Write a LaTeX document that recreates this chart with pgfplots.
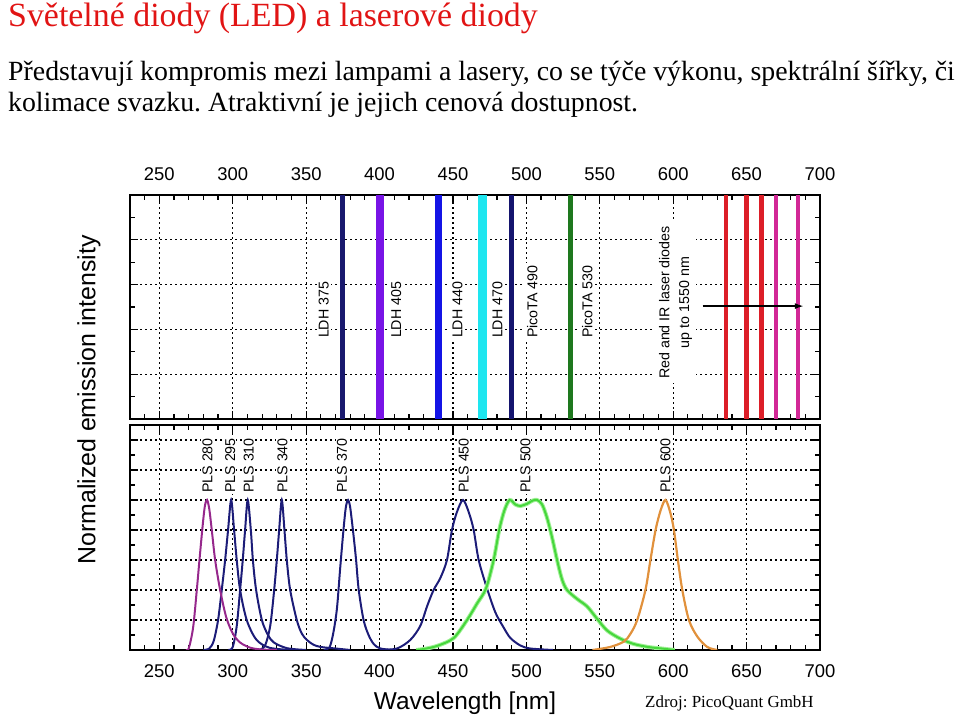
\documentclass[border=0pt]{standalone}
\usepackage{fontspec}
\setmainfont{Liberation Serif}
\setsansfont{Liberation Sans}
\usepackage{pgfplots}
\pgfplotsset{compat=1.18}
\usetikzlibrary{arrows.meta}
\frenchspacing
\definecolor{titlered}{RGB}{225,20,20}
\definecolor{cA}{RGB}{25,25,110}
\definecolor{cB}{RGB}{120,20,230}
\definecolor{cC}{RGB}{20,20,230}
\definecolor{cD}{RGB}{30,230,240}
\definecolor{cE}{RGB}{20,20,110}
\definecolor{cF}{RGB}{30,120,30}
\definecolor{cRed}{RGB}{220,30,40}
\definecolor{cMag}{RGB}{210,40,150}
\definecolor{navy}{RGB}{28,28,120}
\definecolor{magc}{RGB}{150,40,140}
\definecolor{grn}{RGB}{70,215,60}
\definecolor{grnglow}{RGB}{160,240,150}
\definecolor{org}{RGB}{225,145,60}
\pgfplotsset{
  panel/.style={scale only axis, width=690bp, xmin=230, xmax=700,
    xtick={250,300,...,700}, minor xtick={240,250,...,700},
    tick align=inside, major tick length=8bp, minor tick length=5bp,
    tick style={black,line width=1.2bp}, axis line style={line width=1.6bp},
    grid=major, major grid style={black,line width=1.2bp,dash pattern=on 1.8bp off 3.2bp},
    yticklabels={},
    ticklabel style={font=\sffamily\fontsize{18.5}{20}\selectfont},
    /pgf/number format/assume math mode=true,
    xticklabel shift=11bp}
}
\tikzset{
  lbl/.style={rotate=90, anchor=west, fill=white, inner sep=2bp, font=\sffamily\fontsize{14.3}{16}\selectfont},
  lblb/.style={rotate=90, anchor=west, fill=white, inner sep=1bp, font=\sffamily\fontsize{14.3}{16}\selectfont}
}
\begin{document}
\begin{tikzpicture}
\useasboundingbox (0,0) rectangle (960bp,717bp);
\node[anchor=base west, inner sep=0, text=titlered, font=\fontsize{34}{40}\selectfont] at (8bp,690bp) {Světelné diody (LED) a laserové diody};
\node[anchor=base west, inner sep=0, font=\fontsize{27.9}{31}\selectfont] at (8bp,636bp) {Představují kompromis mezi lampami a lasery, co se týče výkonu, spektrální šířky, či};
\node[anchor=base west, inner sep=0, font=\fontsize{27.9}{31}\selectfont] at (8bp,605bp) {kolimace svazku. Atraktivní je jejich cenová dostupnost.};

\begin{axis}[panel, at={(130bp,298bp)}, anchor=south west, height=224bp,
  ymin=0, ymax=5, ytick={0,1,2,3,4,5}, minor ytick={0.5,1.5,2.5,3.5,4.5},
  xticklabel pos=upper]
\addplot[cA, line width=5bp] coordinates {(375,0) (375,5)};
\addplot[cB, line width=8bp] coordinates {(400,0) (400,5)};
\addplot[cC, line width=7bp] coordinates {(440,0) (440,5)};
\addplot[cD, line width=9bp] coordinates {(470,0) (470,5)};
\addplot[cE, line width=4.5bp] coordinates {(490,0) (490,5)};
\addplot[cF, line width=4.5bp] coordinates {(530,0) (530,5)};
\addplot[cRed, line width=4.5bp] coordinates {(636,0) (636,5)};
\addplot[cRed, line width=4.5bp] coordinates {(650,0) (650,5)};
\addplot[cRed, line width=4.5bp] coordinates {(660,0) (660,5)};
\addplot[cMag, line width=4.5bp] coordinates {(670,0) (670,5)};
\addplot[cMag, line width=4.5bp] coordinates {(685,0) (685,5)};
\addplot[black, line width=1.6bp, -{Latex[length=9bp,width=6bp]}] coordinates {(620,2.52) (689,2.52)};
\node[lbl] at (axis cs:362,1.76) {LDH 375};
\node[lbl] at (axis cs:411.4,1.76) {LDH 405};
\node[lbl] at (axis cs:453,1.76) {LDH 440};
\node[lbl] at (axis cs:480.3,1.76) {LDH 470};
\node[lbl] at (axis cs:504,1.76) {PicoTA 490};
\node[lbl] at (axis cs:541.4,1.76) {PicoTA 530};
\node[rotate=90, align=center, fill=white, inner sep=4bp, font=\sffamily\fontsize{14.3}{20}\selectfont] at (axis cs:601.6,2.6) {Red and IR laser diodes\\up to 1550 nm};
\end{axis}

\begin{axis}[panel, at={(130bp,67bp)}, anchor=south west, height=225bp,
  ymin=0, ymax=1.5, ytick={0,0.2,0.4,0.6,0.8,1,1.2,1.4},
  minor ytick={0.1,0.3,0.5,0.7,0.9,1.1,1.3,1.5},
  xticklabel pos=lower]
% PLS 295
\addplot[navy, line width=2bp, smooth] coordinates {(280,0) (284,0.01) (287,0.06) (290,0.2) (292.5,0.4) (294.8,0.6) (296.8,0.8) (298.9,1.0) (300.9,0.8) (302.7,0.6) (305,0.4) (309.5,0.2) (316,0.07) (325,0.015) (340,0)};
% PLS 310
\addplot[navy, line width=2bp, smooth] coordinates {(297,0) (300,0.02) (302.7,0.16) (305,0.4) (306.8,0.6) (308.4,0.8) (310.2,1.0) (312.3,0.8) (313.7,0.6) (315.9,0.4) (319.8,0.2) (324,0.1) (328,0.05) (337,0.012) (350,0)};
% PLS 340
\addplot[navy, line width=2bp, smooth] coordinates {(318,0) (322,0.03) (325.5,0.16) (328.2,0.4) (330,0.6) (331.6,0.8) (333.4,1.0) (335.2,0.8) (336.8,0.6) (339.1,0.4) (343.6,0.2) (347,0.11) (350.5,0.067) (355,0.035) (360,0.02) (370,0.01) (380,0)};
% PLS 370
\addplot[navy, line width=2bp, smooth] coordinates {(362,0) (366,0.02) (368.6,0.12) (371,0.28) (373.2,0.55) (375.4,0.8) (377,0.95) (378.5,1.0) (380,0.95) (382.3,0.76) (384,0.6) (385.8,0.4) (389.1,0.2) (392.5,0.1) (396,0.04) (400.5,0.01) (410,0)};
% PLS 450
\addplot[navy, line width=2bp, smooth] coordinates {(400,0) (411.8,0.01) (420.9,0.067) (427.7,0.16) (432.3,0.29) (436.8,0.4) (441.4,0.48) (445.9,0.6) (449.3,0.8) (452.7,0.92) (456.8,1.0) (460.7,0.92) (464.1,0.8) (467.5,0.6) (473.2,0.41) (478.9,0.25) (484.5,0.15) (489.1,0.08) (495.9,0.03) (502.7,0.01) (518,0)};
% PLS 280
\addplot[magc, line width=2bp, smooth] coordinates {(268,0) (270,0.01) (273,0.15) (275.5,0.4) (277.5,0.62) (279.5,0.83) (281,0.96) (282.5,1.0) (284,0.94) (285.7,0.8) (288,0.6) (291.4,0.4) (295.5,0.22) (300,0.11) (305,0.05) (312,0.015) (320,0.003) (330,0)};
% PLS 500
\addplot[grnglow, line width=4bp, smooth] coordinates {(425,0) (432,0.01) (440,0.03) (450.5,0.08) (459.6,0.2) (466.4,0.31) (472.5,0.41) (477.7,0.6) (481.5,0.8) (485,0.93) (488.6,1.0) (492.5,0.97) (496,0.96) (500.5,0.975) (504,0.995) (507.3,1.0) (510.7,0.97) (514.1,0.88) (517.5,0.75) (520.9,0.6) (524.3,0.47) (527.7,0.4) (534.6,0.34) (541.4,0.29) (548,0.21) (555,0.13) (564.1,0.075) (573.2,0.04) (583,0.02) (592,0.01) (601,0)};
\addplot[grn, line width=2bp, smooth] coordinates {(425,0) (432,0.01) (440,0.03) (450.5,0.08) (459.6,0.2) (466.4,0.31) (472.5,0.41) (477.7,0.6) (481.5,0.8) (485,0.93) (488.6,1.0) (492.5,0.97) (496,0.96) (500.5,0.975) (504,0.995) (507.3,1.0) (510.7,0.97) (514.1,0.88) (517.5,0.75) (520.9,0.6) (524.3,0.47) (527.7,0.4) (534.6,0.34) (541.4,0.29) (548,0.21) (555,0.13) (564.1,0.075) (573.2,0.04) (583,0.02) (592,0.01) (601,0)};
% PLS 600
\addplot[org, line width=2.2bp, smooth] coordinates {(545,0) (557,0.02) (566.4,0.056) (571,0.11) (575.5,0.2) (581.1,0.4) (584.5,0.6) (588,0.8) (591.4,0.93) (594.8,1.0) (598.2,0.91) (600.5,0.8) (603.2,0.6) (606.2,0.4) (610.7,0.2) (616.4,0.09) (623.2,0.02) (630,0)};
\node[lblb] at (axis cs:282.7,1.04) {PLS 280};
\node[lblb] at (axis cs:298.2,1.04) {PLS 295};
\node[lblb] at (axis cs:310.9,1.04) {PLS 310};
\node[lblb] at (axis cs:333.9,1.04) {PLS 340};
\node[lblb] at (axis cs:374.3,1.04) {PLS 370};
\node[lblb] at (axis cs:457.3,1.04) {PLS 450};
\node[lblb] at (axis cs:499.3,1.04) {PLS 500};
\node[lblb] at (axis cs:594.8,1.04) {PLS 600};
\end{axis}

\node[rotate=90, inner sep=0, font=\sffamily\fontsize{25}{28}\selectfont] at (89bp,317bp) {Normalized emission intensity};
\node[anchor=base, inner sep=0, font=\sffamily\fontsize{24.5}{28}\selectfont] at (465bp,8bp) {Wavelength [nm]};
\node[anchor=base west, inner sep=0, font=\fontsize{17}{20}\selectfont] at (645bp,10bp) {Zdroj: PicoQuant GmbH};
\end{tikzpicture}
\end{document}
